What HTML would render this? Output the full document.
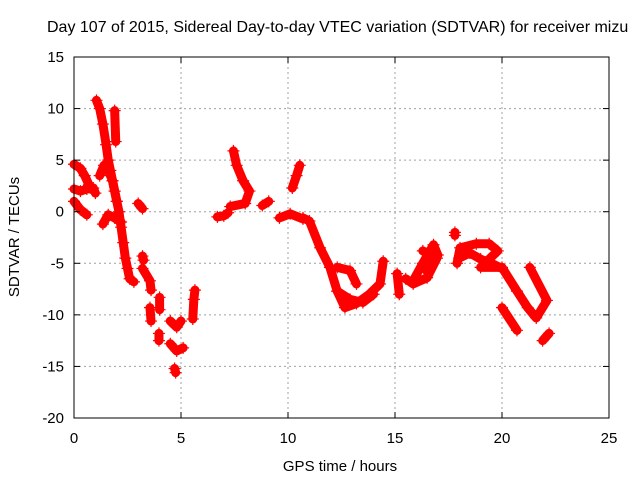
<!DOCTYPE html>
<html><head><meta charset="utf-8"><style>
body{margin:0;background:#fff}
svg{display:block;font-family:"Liberation Sans",sans-serif}
</style></head><body>
<svg id="chart" width="640" height="480" viewBox="0 0 640 480">
<text x="47" y="32" font-size="16">Day 107 of 2015, Sidereal Day-to-day VTEC variation (SDTVAR) for receiver mizu</text>
<text transform="translate(19,237) rotate(-90)" text-anchor="middle" font-size="15">SDTVAR / TECUs</text>
<text x="340" y="471" text-anchor="middle" font-size="15">GPS time / hours</text>
<g id="grid"></g><g id="marks"></g><g id="axes"></g>
</svg>
<script>
const xTicks=[0,5,10,15,20,25];
const yTicks=[15,10,5,0,-5,-10,-15,-20];
const trackTimes=[
[0.0,0.3,0.5,0.7],
[0.0,0.3,0.6,0.9,1.0],
[0.0,0.3,0.6],
[1.05,1.2,1.35,1.5,1.6,1.7,1.8,1.9,2.0,2.1,2.2,2.3,2.4,2.5,2.6,2.8],
[1.2,1.4,1.6,1.8,1.9,2.0],
[1.35,1.6,1.9,2.2],
[1.9,1.95],
[3.0,3.2],
[3.2,3.25],
[3.2,3.55,3.6],
[3.55,3.6],
[4.0,4.0],
[3.97,3.97],
[4.5,4.8,5.0],
[4.5,4.8,5.1],
[4.7,4.75],
[5.55,5.6,5.65],
[6.7,7.0,7.2],
[7.45,7.6,7.9,8.2,8.0,7.3],
[8.8,9.1],
[9.6,10.1,10.7],
[10.2,10.4,10.55],
[10.7,11.0,11.5,11.96,12.3,12.66,13.2,13.8,14.3,14.45],
[12.3,12.9,13.2],
[12.3,12.9,13.5,14.0],
[15.1,15.2],
[15.5,15.85,16.5,16.96,16.3],
[15.9,16.3,16.8,17.0,16.5],
[17.9,18.04,18.8,19.4,19.8,19.0,20.0,20.7,21.2,21.6,22.1,21.3],
[18.0,18.5,19.0,19.5,20.0],
[20.0,20.7],
[21.9,22.2],
[17.8,17.8]
];
const trackValues=[
[4.6,4.2,3.5,2.6],
[2.2,2.0,2.2,2.3,1.8],
[1.0,0.2,-0.3],
[10.8,10.0,8.5,6.5,5.0,4.0,3.0,2.0,1.0,0.0,-1.5,-3.0,-4.5,-5.5,-6.5,-6.8],
[3.5,4.5,4.0,3.0,2.0,1.0],
[-1.2,-0.3,-0.6,-1.0],
[9.8,6.8],
[0.8,0.3],
[-4.3,-4.7],
[-5.5,-6.7,-7.6],
[-9.3,-10.6],
[-8.3,-9.5],
[-11.8,-12.5],
[-10.6,-11.2,-10.6],
[-12.8,-13.5,-13.2],
[-15.2,-15.6],
[-10.4,-8.5,-7.6],
[-0.5,-0.4,-0.1],
[5.9,4.5,3.0,2.0,0.8,0.5],
[0.6,1.0],
[-0.6,-0.2,-0.7],
[2.3,3.5,4.5],
[-0.6,-0.9,-3.5,-5.4,-7.7,-9.3,-8.9,-8.0,-7.0,-4.8],
[-5.4,-5.7,-7.0],
[-7.7,-8.5,-8.8,-8.0],
[-6.0,-8.0],
[-6.5,-7.0,-6.4,-4.5,-3.8],
[-6.5,-5.0,-3.2,-4.2,-5.8],
[-5.0,-3.5,-3.1,-3.1,-3.8,-5.4,-5.4,-7.7,-9.3,-10.3,-8.6,-5.4],
[-4.5,-4.0,-4.6,-5.0,-5.5],
[-9.3,-11.5],
[-12.5,-11.8],
[-2.0,-2.3]
];
const L=74,R=609,T=57,B=418;
const xs=t=>L+(t-0)/25*(R-L);
const ys=v=>B-(v+20)/35*(B-T);
const NS="http://www.w3.org/2000/svg";
function mk(tag,attrs,parent){const e=document.createElementNS(NS,tag);for(const k in attrs)e.setAttribute(k,attrs[k]);parent.appendChild(e);return e;}
const grid=document.getElementById('grid'),axes=document.getElementById('axes'),marks=document.getElementById('marks');
xTicks.forEach(t=>{
  const x=xs(t);
  if(t>0&&t<25){const g=mk('line',{x1:x,x2:x,y1:T,y2:B,stroke:'#a0a0a0','stroke-dasharray':'2,3'},grid);
  
  }
  const tk=mk('line',{x1:x,x2:x,y1:B,y2:B-6,stroke:'#000'},axes);
  
  
  const tk2=mk('line',{x1:x,x2:x,y1:T,y2:T+6,stroke:'#000'},axes);
  
  
  const lb=mk('text',{x:x,y:B+25,'text-anchor':'middle','font-size':'15'},axes);lb.textContent=t;
  
  
});
yTicks.forEach(v=>{
  const y=ys(v);
  if(v<15&&v>-20){const g=mk('line',{x1:L,x2:R,y1:y,y2:y,stroke:'#a0a0a0','stroke-dasharray':'2,3'},grid);
  
  }
  const tk=mk('line',{x1:L,x2:L+6,y1:y,y2:y,stroke:'#000'},axes);
  
  
  const tk2=mk('line',{x1:R,x2:R-6,y1:y,y2:y,stroke:'#000'},axes);
  
  
  const lb=mk('text',{x:L-10,y:y+5,'text-anchor':'end','font-size':'15'},axes);lb.textContent=v;
  
  
});
const fr=mk('rect',{x:L,y:T,width:R-L,height:B-T,fill:'none',stroke:'#000'},axes);


trackTimes.forEach((ts,i)=>{
  const vs=trackValues[i];
  const pts=ts.map((t,j)=>xs(t)+','+ys(vs[j])).join(' ');
  const pl=mk('polyline',{points:pts,fill:'none',stroke:'#f00','stroke-width':'9','stroke-linecap':'round','stroke-linejoin':'round'},marks);
  
  
  ts.forEach((t,j)=>{
    const x=xs(t),y=ys(vs[j]);
    const p=mk('path',{d:`M${x-6},${y}H${x+6}M${x},${y-6}V${y+6}`,stroke:'#f00','stroke-width':'1.2'},marks);
    
    
  });
});
</script>
</body></html>
